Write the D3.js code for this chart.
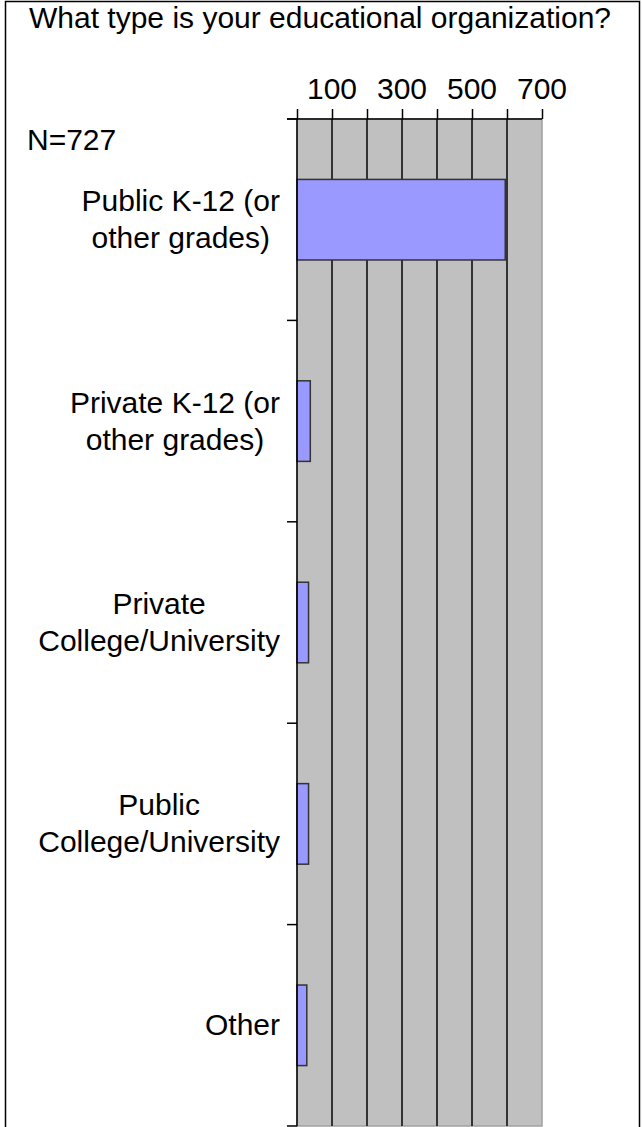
<!DOCTYPE html>
<html>
<meta charset="utf-8">
  <head>
    <script src="https://d3js.org/d3.v7.min.js"></script>
    <style>
      body { margin: 0; background: #fff; }
      text { font-family: "Liberation Sans", Arial, sans-serif; fill: #000; }
    </style>
  </head>
  <body>
    <div id="my_dataviz"></div>
    <script>

    // data
    var categories = [
      "Public K-12 (or\nother grades)",
      "Private K-12 (or\nother grades)",
      "Private\nCollege/University",
      "Public\nCollege/University",
      "Other"
    ];
    var counts = [595, 38, 33, 33, 28];
    var gridTicks = [0, 100, 200, 300, 400, 500, 600, 700];
    var tickLabels = [100, 300, 500, 700];
    var title = "What type is your educational organization?";
    var note = "N=727";

    var W = 642, H = 1127;
    var plot = {left: 297, right: 542, top: 119, bottom: 1126};
    var fontSize = 30;

    var svg = d3.select("#my_dataviz")
      .append("svg")
        .attr("width", W)
        .attr("height", H);

    // outer frame
    svg.append("rect")
      .attr("x", 5.5).attr("y", 1.5)
      .attr("width", 634).attr("height", H + 20)
      .attr("fill", "none")
      .attr("stroke", "#000")
      .attr("stroke-width", 1.5);

    var x = d3.scaleLinear()
        .domain([0, 700])
        .range([plot.left, plot.right]);

    var y = d3.scaleBand()
        .domain(categories)
        .range([plot.top, plot.bottom])
        .paddingInner(0.6)
        .paddingOuter(0.3);

    // plot background
    svg.append("rect")
      .attr("x", plot.left).attr("y", plot.top)
      .attr("width", plot.right - plot.left)
      .attr("height", plot.bottom - plot.top)
      .attr("fill", "#c0c0c0")
      .attr("stroke", "#a0a0a0")
      .attr("stroke-width", 1.5);

    // vertical gridlines
    svg.selectAll("line.grid")
      .data(gridTicks.filter(function(d) { return d > 0 && d < 700; }))
      .enter()
      .append("line")
        .attr("class", "grid")
        .attr("x1", function(d) { return x(d); })
        .attr("x2", function(d) { return x(d); })
        .attr("y1", plot.top)
        .attr("y2", plot.bottom)
        .attr("stroke", "#333")
        .attr("stroke-width", 2);

    // bars
    svg.selectAll("rect.bar")
      .data(counts)
      .enter()
      .append("rect")
        .attr("class", "bar")
        .attr("x", x(0))
        .attr("y", function(d, i) { return y(categories[i]); })
        .attr("width", function(d) { return x(d) - x(0); })
        .attr("height", y.bandwidth())
        .attr("fill", "#9999ff")
        .attr("stroke", "#333")
        .attr("stroke-width", 1.5);

    // top value axis
    var xAxis = svg.append("g")
        .attr("transform", "translate(0," + plot.top + ")")
        .call(d3.axisTop(x).tickValues(gridTicks).tickSize(10).tickFormat(""));
    xAxis.select(".domain").remove();
    xAxis.selectAll(".tick line").attr("stroke", "#000").attr("stroke-width", 1.5);

    svg.selectAll("text.xlab")
      .data(tickLabels)
      .enter()
      .append("text")
        .attr("class", "xlab")
        .attr("x", function(d) { return x(d); })
        .attr("y", 99)
        .attr("text-anchor", "middle")
        .style("font-size", fontSize + "px")
        .text(function(d) { return d; });

    // category axis: line plus outward ticks at band edges
    svg.append("line")
      .attr("x1", plot.left).attr("x2", plot.left)
      .attr("y1", plot.top).attr("y2", plot.bottom)
      .attr("stroke", "#000").attr("stroke-width", 1.5);
    svg.append("line")
      .attr("x1", plot.left - 10).attr("x2", plot.right)
      .attr("y1", plot.top).attr("y2", plot.top)
      .attr("stroke", "#000").attr("stroke-width", 1.5);

    var edges = d3.range(categories.length + 1).map(function(i) {
      return y.range()[0] + i * y.step();
    });
    svg.selectAll("line.ytick")
      .data(edges)
      .enter()
      .append("line")
        .attr("class", "ytick")
        .attr("x1", plot.left - 10).attr("x2", plot.left)
        .attr("y1", function(d) { return d; })
        .attr("y2", function(d) { return d; })
        .attr("stroke", "#000").attr("stroke-width", 1.5);

    // category labels: centred lines, block right aligned
    var labelRight = 280, lineGap = 37, capH = 20;
    categories.forEach(function(c) {
      var lines = c.split("\n");
      var g = svg.append("g");
      var texts = lines.map(function(l) {
        return g.append("text").style("font-size", fontSize + "px").text(l);
      });
      var maxW = d3.max(texts, function(t) { return t.node().getComputedTextLength(); });
      var cy = y(c) + y.bandwidth() / 2;
      var firstBase = cy + capH / 2 - (lines.length - 1) * lineGap / 2;
      texts.forEach(function(t, i) {
        t.attr("x", labelRight - maxW / 2)
         .attr("y", firstBase + i * lineGap)
         .attr("text-anchor", "middle");
      });
    });

    svg.append("text")
      .attr("x", 320).attr("y", 28)
      .attr("text-anchor", "middle")
      .style("font-size", fontSize + "px")
      .text(title);

    svg.append("text")
      .attr("x", 27).attr("y", 150)
      .style("font-size", fontSize + "px")
      .text(note);

    </script>
  </body>
</html>
